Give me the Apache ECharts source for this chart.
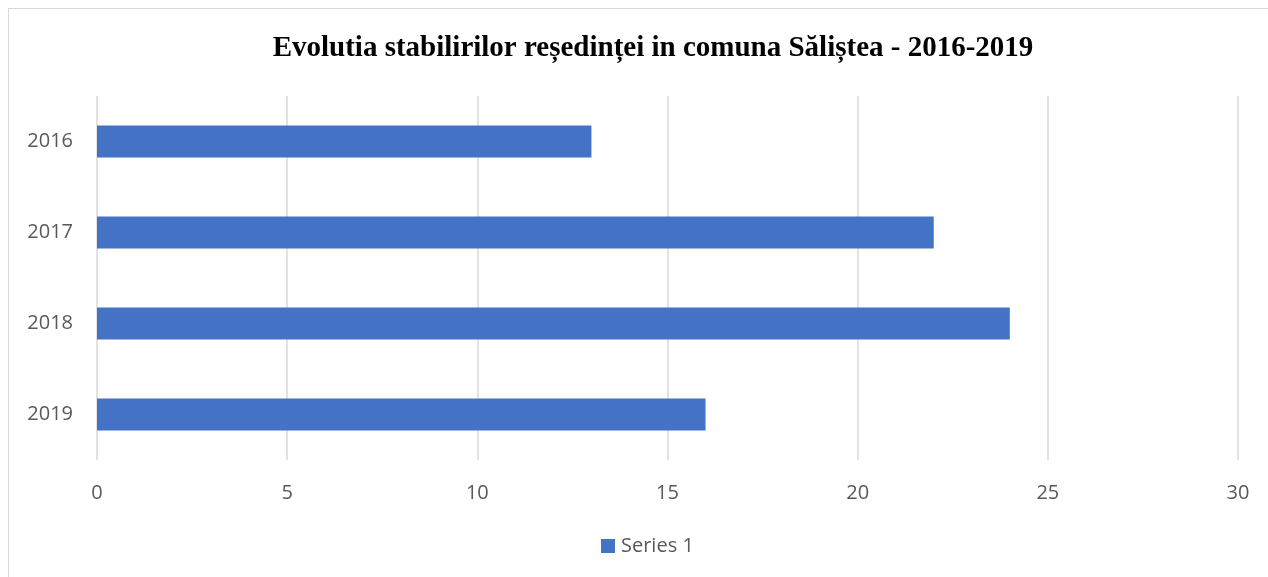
<!DOCTYPE html>
<html>
<head>
<meta charset="utf-8">
<script src="https://cdn.jsdelivr.net/npm/echarts@6/dist/echarts.min.js"></script>
<style>
  html, body { margin: 0; padding: 0; background: #fff; }
  #frame { position: absolute; left: 8px; top: 8px; width: 1300px; height: 600px; border: 1px solid #d9d9d9; }
  #chart { position: absolute; left: 0; top: 0; width: 1268px; height: 577px; }
</style>
</head>
<body>
<div id="frame"></div>
<div id="chart"></div>
<script>
// Evolutia stabilirilor reședinței - Săliștea
const years = ["2016", "2017", "2018", "2019"];
const series1 = [13, 22, 24, 16];
const seriesName = "Series 1";
const titleText = "Evolutia stabilirilor reședinței in comuna Săliștea - 2016-2019";

const chart = echarts.init(document.getElementById("chart"));
const option = {
  animation: false,
  title: {
    text: titleText,
    left: 648,
    textAlign: "center",
    top: 29,
    textStyle: {
      fontFamily: "Liberation Serif",
      fontWeight: "bold",
      fontSize: 29,
      color: "#000"
    }
  },
  legend: {
    data: [seriesName],
    bottom: 16,
    left: 596,
    icon: "rect",
    itemWidth: 14,
    itemHeight: 14,
    itemGap: 6,
    textStyle: { fontFamily: "Open Sans", fontSize: 20, color: "#595959", padding: [0, 0, 0, 1] }
  },
  grid: { left: 97, right: 30, top: 96, bottom: 117 },
  xAxis: {
    type: "value",
    min: 0,
    max: 30,
    interval: 5,
    axisLine: { show: false },
    axisTick: { show: false },
    splitLine: { lineStyle: { color: "#d9d9d9", width: 1.5 } },
    axisLabel: { fontFamily: "Open Sans", fontSize: 20, color: "#595959", margin: 23 }
  },
  yAxis: {
    type: "category",
    data: years,
    inverse: true,
    axisLine: { show: false },
    axisTick: { show: false },
    axisLabel: { fontFamily: "Open Sans", fontSize: 20, color: "#595959", margin: 24 }
  },
  series: [
    {
      name: seriesName,
      type: "bar",
      data: series1,
      barWidth: 32,
      itemStyle: { color: "#4472c4" }
    }
  ]
};
chart.setOption(option);
</script>
</body>
</html>
